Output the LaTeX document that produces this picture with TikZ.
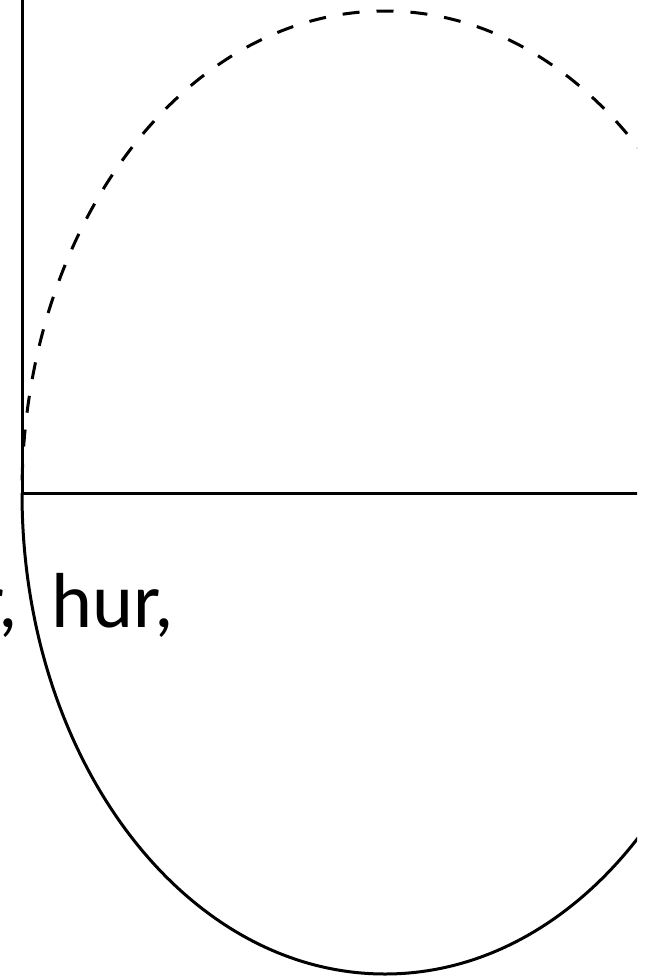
\documentclass[tikz,border=0pt]{standalone}
\usepackage{fontspec}
\setmainfont{Carlito}
\begin{document}
\begin{tikzpicture}[x=1pt,y=-1pt,
  stroke/.style={line width=3pt,black},
  dashedstroke/.style={stroke,dash pattern=on 17pt off 17pt,dash phase=8.5pt},
  bigtext/.style={font=\fontsize{78}{90}\selectfont,inner sep=0pt,outer sep=0pt}]
\useasboundingbox (0,0) rectangle (651,978);
\begin{scope}
\clip (0,0) rectangle (637,978);
\coordinate (top) at (385,11);
\coordinate (left) at (22,493);
\coordinate (vtop) at (22,0);
\coordinate (hright) at (660,493);
% vertical and horizontal lines
\draw[stroke] (vtop) -- (left);
\draw[stroke] (left) -- (hright);
% upper dashed half of the ellipse
\draw[dashedstroke] (top) arc[start angle=270,end angle=180,x radius=363,y radius=482];
\draw[dashedstroke] (top) arc[start angle=270,end angle=360,x radius=363,y radius=482];
% lower solid half
\draw[stroke] (left) arc[start angle=180,end angle=0,x radius=363,y radius=481];
\end{scope}
\node[bigtext,anchor=base west] (txt) at (-22,627) {r,\hspace{34pt}hur,};
\end{tikzpicture}
\end{document}
